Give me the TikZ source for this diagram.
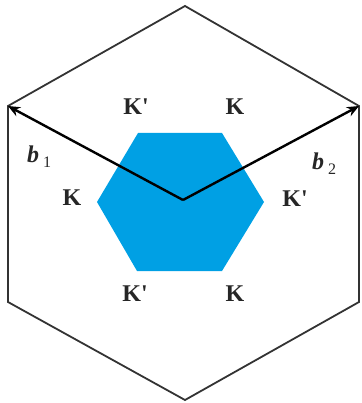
\documentclass[tikz,border=0pt]{standalone}
\usepackage{fontspec}
\setmainfont{Liberation Serif}[Ligatures=TeXOff]
\usetikzlibrary{arrows.meta}
\definecolor{hexblue}{RGB}{0,160,228}
\begin{document}
\begin{tikzpicture}[x=1pt,y=-1pt,
  bz/.style={draw=black!80, line width=1.8pt, line join=miter},
  vec/.style={draw=black, line width=2.4pt, -{Stealth[length=12pt,width=10pt]}},
  klab/.style={font=\fontsize{24}{26}\selectfont\bfseries, text=black!85, inner sep=0pt},
  blab/.style={font=\fontsize{24}{26}\selectfont, text=black!85, inner sep=0pt}]
\useasboundingbox (0,0) rectangle (361,403);
% big hexagon vertices
\coordinate (T) at (185,6);
\coordinate (UL) at (8,106);
\coordinate (LL) at (8,302);
\coordinate (B) at (185,400);
\coordinate (LR) at (359,302);
\coordinate (UR) at (359,106);
\coordinate (O) at (183,200);
% small hexagon
\fill[hexblue] (138,133) -- (222,133) -- (264,202) -- (222,271) -- (137,271) -- (97,202) -- cycle;
\draw[bz] (T) -- (UL) -- (LL) -- (B) -- (LR) -- (UR) -- cycle;
\draw[vec] (O) -- (UL);
\draw[vec] (O) -- (UR);
\node[klab] (k1) at (136,107) {K'};
\node[klab] (k2) at (235,107) {K};
\node[klab] (k3) at (72,198) {K};
\node[klab] (k4) at (295,199) {K'};
\node[klab] (k5) at (135,294) {K'};
\node[klab] (k6) at (235,294) {K};
\node[blab, anchor=base west] (b1) at (27,163) {\textbf{\textit{b}}\,\raisebox{-0.45ex}{\fontsize{16}{17}\selectfont 1}};
\node[blab, anchor=base west] (b2) at (312,170) {\textbf{\textit{b}}\,\raisebox{-0.45ex}{\fontsize{16}{17}\selectfont 2}};
\end{tikzpicture}
\end{document}
